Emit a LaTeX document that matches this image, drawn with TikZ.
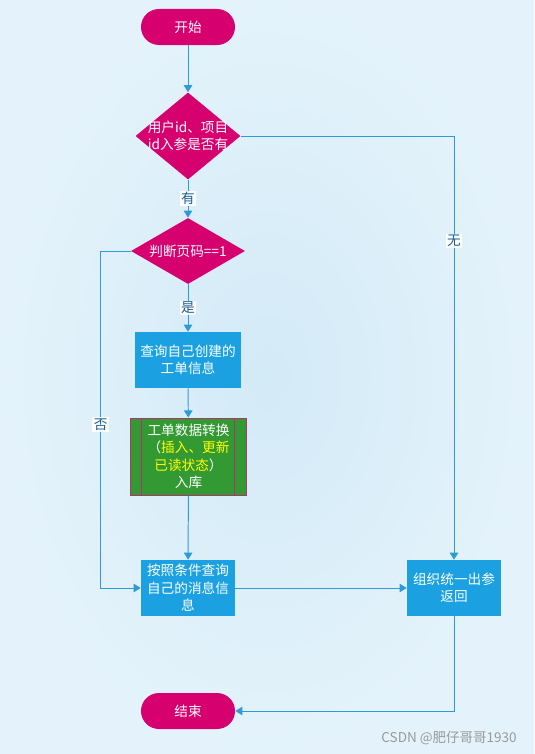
\documentclass[tikz,border=0pt]{standalone}
\usepackage{fontspec}
\setmainfont{Noto Sans CJK SC}
\usetikzlibrary{positioning,shapes.geometric,arrows.meta,calc}

\definecolor{fucsia}{HTML}{D6006F}
\definecolor{azzurro}{HTML}{1BA1E2}
\definecolor{verde}{HTML}{339933}
\definecolor{bordo}{HTML}{B42F73}
\definecolor{giallo}{HTML}{FFFF00}
\definecolor{linea}{HTML}{2E9BD8}
\definecolor{etictesto}{HTML}{1F5F8E}
\definecolor{sfondoA}{HTML}{D3EAF7}
\definecolor{sfondoB}{HTML}{E4F3FB}

\tikzset{
  term/.style={fill=fucsia, rounded corners=0.45cm, minimum width=2.35cm, minimum height=0.9cm, text=white},
  rombo/.style={diamond, fill=fucsia, inner sep=0pt},
  scatola/.style={fill=azzurro, minimum height=1.4cm, text=white, align=center, inner sep=1pt},
  freccia/.style={draw=linea, line width=0.7pt, -{Triangle[length=5pt,width=6pt]}},
  etic/.style={fill=white, fill opacity=0.9, text opacity=1, text=etictesto, inner sep=1pt}
}

\begin{document}
\begin{tikzpicture}[x=0.025cm, y=-0.025cm, every node/.style={font=\fontsize{9.7}{12.4}\selectfont}]
  %sfondo
  \shade[inner color=sfondoA, outer color=sfondoB] (0,0) rectangle (534,754);
  \useasboundingbox (0,0) rectangle (534,754);

  \node[term] (start) at (188,27) {开始};
  \node[rombo, minimum width=2.625cm, minimum height=2.175cm,
    label={[text=white, align=center]center:用户id、项目\\id入参是否有}] (d1) at (188,136) {};
  \node[rombo, minimum width=2.85cm, minimum height=1.65cm,
    label={[text=white]center:判断页码==1}] (d2) at (188,251) {};
  \node[scatola, minimum width=2.625cm] (q1) at (188,360) {查询自己创建的\\工单信息};
  %conversione
  \node[scatola, fill=verde, draw=bordo, line width=0.7pt, minimum width=2.875cm, minimum height=1.925cm] (conv) at (188.5,456.5)
    {工单数据转换\\（\textcolor{giallo}{插入、更新}\\\textcolor{giallo}{已读状态}）\\入库};
  \draw[bordo, line width=0.7pt] ($(conv.north west)+(11,0)$) -- ($(conv.south west)+(11,0)$);
  \draw[bordo, line width=0.7pt] ($(conv.north east)+(-12,0)$) -- ($(conv.south east)+(-12,0)$);
  \node[scatola, minimum width=2.35cm] (q2) at (188,588) {按照条件查询\\自己的消息信\\息};
  \node[scatola, minimum width=2.35cm] (ret) at (454,588) {组织统一出参\\返回};
  \node[term] (stop) at (188,711) {结束};

  %frecce
  \draw[freccia] (start) -- (d1);
  \draw[freccia] (d1) -- node[etic]{有} (d2);
  \draw[freccia] (d1.east) -| node[etic, pos=0.624]{无} (ret.north);
  \draw[freccia] (d2) -- node[etic]{是} (q1);
  \draw[freccia] (d2.west) -- ++(-30,0) |- node[etic, pos=0.257]{否} (q2.west);
  \draw[freccia] (q1) -- (conv);
  \draw[freccia] (conv) -- (q2);
  \draw[freccia] (q2) -- (ret);
  \draw[freccia] (ret.south) |- (stop.east);

  \node[text=gray!80, font=\fontsize{9.6}{12}\selectfont] (wm) at (449,738) {CSDN @肥仔哥哥1930};
\end{tikzpicture}
\end{document}
